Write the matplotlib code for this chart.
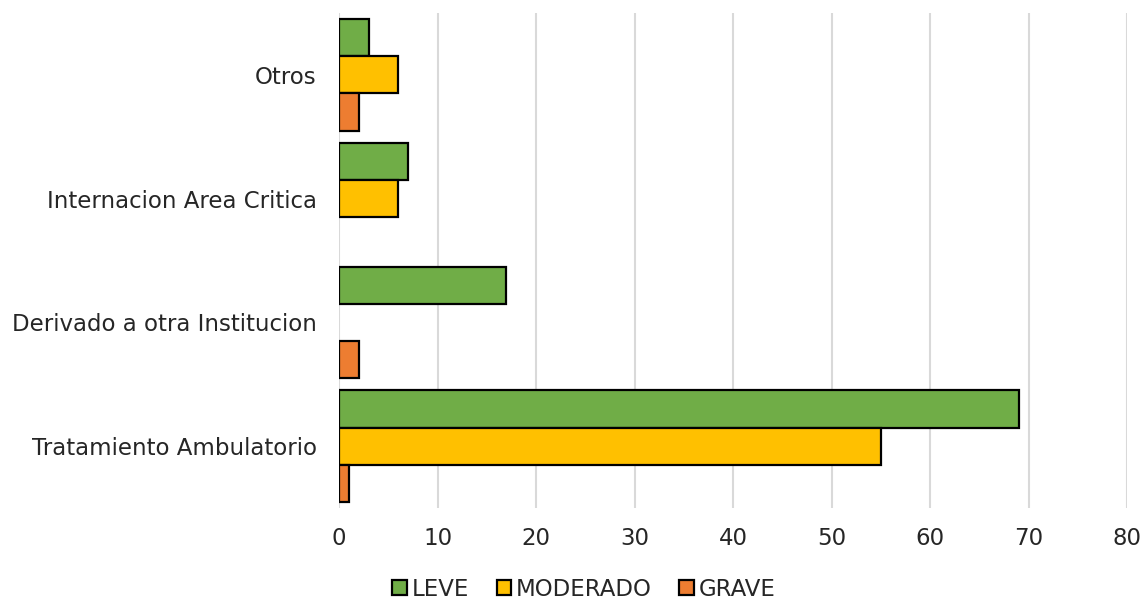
import matplotlib
matplotlib.use("Agg")
import matplotlib.pyplot as plt
import numpy as np
from matplotlib.patches import Patch

categories = ["Tratamiento Ambulatorio", "Derivado a otra Institucion", "Internacion Area Critica", "Otros"]
series = ["LEVE", "MODERADO", "GRAVE"]
leve = [69, 17, 7, 3]
moderado = [55, 0, 6, 6]
grave = [1, 2, 0, 2]
colors = ["#70AD47", "#FFC000", "#ED7D31"]
xticks = [0, 10, 20, 30, 40, 50, 60, 70, 80]

plt.rcParams['font.family'] = ['DejaVu Sans']

fig = plt.figure(figsize=(11.42, 6.02), dpi=100)
ax = fig.add_axes([339/1142, 1-508/602, (1127-339)/1142, (508-13)/602])

y = np.arange(len(categories))
h = 0.3
for i, (vals, name, c) in enumerate(zip([leve, moderado, grave], series, colors)):
    offset = (1 - i) * h
    lws = [1.6 if v > 0 else 0 for v in vals]
    ax.barh(y + offset, vals, height=h, color=c, edgecolor="black", linewidth=lws, label=name, zorder=3)

ax.set_xlim(0, 80)
ax.set_ylim(-0.5, 3.5)
ax.set_xticks(xticks)
ax.set_yticks(y)
ax.set_yticklabels(categories)
ax.tick_params(axis='both', length=0, labelsize=16.5, colors="#262626")
ax.tick_params(axis='x', pad=14)
ax.tick_params(axis='y', pad=16)
ax.grid(axis='x', color="#D9D9D9", linewidth=1.5, zorder=0)
for s in ax.spines.values():
    s.set_visible(False)

handles = [Patch(facecolor=c, edgecolor="black", linewidth=1.6, label=n) for c, n in zip(colors, series)]
fig.legend(handles=handles, loc="center", bbox_to_anchor=(584/1142, 1-589/602), ncol=3, frameon=False,
           fontsize=16.5, handlelength=0.65, handleheight=0.65, handletextpad=0.2, columnspacing=1.2,
           labelcolor="#262626", borderpad=0.1)

fig.savefig("out.png", dpi=100)
